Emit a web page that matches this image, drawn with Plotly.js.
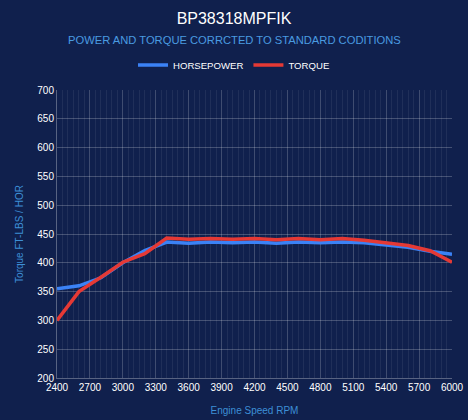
<!DOCTYPE html>
<html>
<head>
<meta charset="utf-8">
<script src="https://cdn.plot.ly/plotly-3.0.1.min.js"></script>
<style>
html,body{margin:0;padding:0;background:#10204d;}
#chart{width:468px;height:420px;}
</style>
</head>
<body>
<div id="chart"></div>
<script>
const rpm = [2400,2600,2800,3000,3200,3400,3600,3800,4000,4200,4400,4600,4800,5000,5200,5400,5600,5800,6000];
const horsepower = [355,360,374,400,421,436,434,436,435,436,434,436,435,436,435,431,427,420,415];
const torque = [300,350,375,401,416,443,441,442,441,442,440,442,440,442,439,435,430,421,401];
const xTicks = [2400,2700,3000,3300,3600,3900,4200,4500,4800,5100,5400,5700,6000];

const font = {family: '"Liberation Sans", Arial, sans-serif'};
const traces = [
  {x: rpm, y: horsepower, name: 'HORSEPOWER', type: 'scatter', mode: 'lines',
   line: {color: '#3b82f6', width: 3.5}},
  {x: rpm, y: torque, name: 'TORQUE', type: 'scatter', mode: 'lines',
   line: {color: '#e53935', width: 3.5}}
];
const centerPaper = (234 - 57) / 395;
const layout = {
  width: 468, height: 420,
  paper_bgcolor: '#10204d', plot_bgcolor: '#10204d',
  font: Object.assign({color: '#ffffff', size: 11}, font),
  margin: {l: 57, r: 16, t: 90, b: 42},
  title: {text: 'BP38318MPFIK', xref: 'paper', x: centerPaper, xanchor: 'center', y: 0.957, yanchor: 'middle',
          font: Object.assign({size: 16, color: '#ffffff'}, font)},
  annotations: [{text: 'POWER AND TORQUE CORRCTED TO STANDARD CODITIONS', xref: 'paper', yref: 'paper',
    x: centerPaper, y: 1 + (90 - 40) / 288, xanchor: 'center', yanchor: 'middle', showarrow: false,
    font: Object.assign({size: 11.2, color: '#4a9be0'}, font)}],
  showlegend: true,
  legend: {orientation: 'h', xref: 'paper', x: centerPaper, xanchor: 'center', y: 1 + (90 - 65) / 288, yanchor: 'middle',
    font: Object.assign({size: 9.6, color: '#ffffff'}, font), itemwidth: 30, bgcolor: 'rgba(0,0,0,0)'},
  xaxis: {
    range: [2400, 6000], tickmode: 'array', tickvals: xTicks, ticktext: xTicks.map(String),
    showgrid: true, gridcolor: 'rgba(255,255,255,0.14)', gridwidth: 1,
    minor: {dtick: 50, tick0: 2400, showgrid: true, gridcolor: 'rgba(255,255,255,0.07)', gridwidth: 1},
    showline: true, linecolor: 'rgba(255,255,255,0.3)', zeroline: false,
    ticks: '', tickfont: Object.assign({size: 10, color: '#ffffff'}, font),
    title: {text: 'Engine Speed RPM', standoff: 14, font: Object.assign({size: 10, color: '#3d8fd6'}, font)}
  },
  yaxis: {
    range: [200, 700], dtick: 50, tick0: 200,
    showgrid: true, gridcolor: 'rgba(255,255,255,0.22)', gridwidth: 1,
    showline: true, linecolor: 'rgba(255,255,255,0.3)', zeroline: false,
    ticks: '', tickfont: Object.assign({size: 10, color: '#ffffff'}, font),
    title: {text: 'Torque FT-LBS / HOR', standoff: 11, font: Object.assign({size: 10, color: '#3d8fd6'}, font)}
  }
};
Plotly.newPlot('chart', traces, layout, {displayModeBar: false, staticPlot: true});
</script>
</body>
</html>
